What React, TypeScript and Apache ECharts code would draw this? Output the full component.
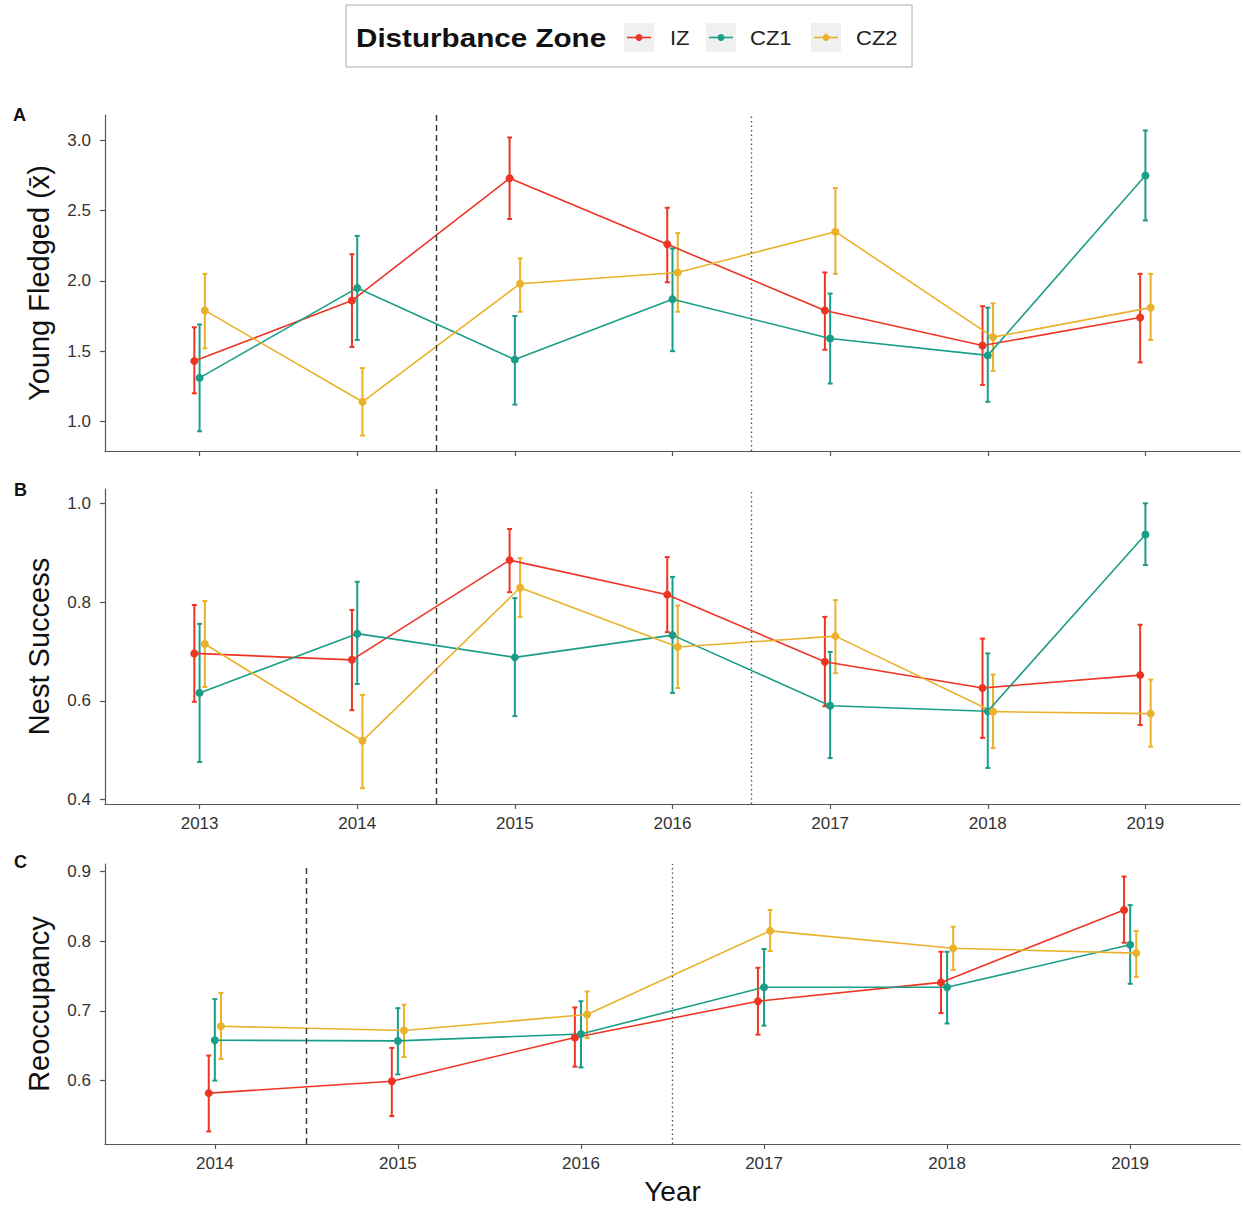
import React, { useEffect, useRef } from "react";
import * as echarts from "echarts";

const YEARS_AB = [2013, 2014, 2015, 2016, 2017, 2018, 2019];
const YEARS_C = [2014, 2015, 2016, 2017, 2018, 2019];
const ZONES = ["IZ", "CZ1", "CZ2"];
const COLORS: Record<string, string> = { IZ: "#EE3524", CZ1: "#1A9E88", CZ2: "#EAB22B" };
const DODGE: Record<string, number> = { IZ: -1 / 30, CZ1: 0, CZ2: 1 / 30 };

const A_TICKS = [1.0, 1.5, 2.0, 2.5, 3.0];
const B_TICKS = [0.4, 0.6, 0.8, 1.0];
const C_TICKS = [0.6, 0.7, 0.8, 0.9];
const DASHED_X = 2014.5;
const DOTTED_X = 2016.5;

// Panel A: Young Fledged (mean, lower, upper)
const A_IZ_MEAN = [1.43, 1.86, 2.73, 2.26, 1.79, 1.54, 1.74];
const A_IZ_LOW = [1.2, 1.53, 2.44, 1.99, 1.51, 1.26, 1.42];
const A_IZ_HIGH = [1.67, 2.19, 3.02, 2.52, 2.06, 1.82, 2.05];
const A_CZ1_MEAN = [1.31, 1.95, 1.44, 1.87, 1.59, 1.47, 2.75];
const A_CZ1_LOW = [0.93, 1.58, 1.12, 1.5, 1.27, 1.14, 2.43];
const A_CZ1_HIGH = [1.69, 2.32, 1.75, 2.23, 1.91, 1.81, 3.07];
const A_CZ2_MEAN = [1.79, 1.14, 1.98, 2.06, 2.35, 1.6, 1.81];
const A_CZ2_LOW = [1.52, 0.9, 1.78, 1.78, 2.05, 1.36, 1.58];
const A_CZ2_HIGH = [2.05, 1.38, 2.16, 2.34, 2.66, 1.84, 2.05];

// Panel B: Nest Success
const B_IZ_MEAN = [0.696, 0.683, 0.885, 0.815, 0.679, 0.626, 0.652];
const B_IZ_LOW = [0.598, 0.581, 0.82, 0.739, 0.589, 0.525, 0.551];
const B_IZ_HIGH = [0.794, 0.784, 0.948, 0.891, 0.77, 0.726, 0.754];
const B_CZ1_MEAN = [0.616, 0.736, 0.688, 0.733, 0.59, 0.579, 0.937];
const B_CZ1_LOW = [0.476, 0.634, 0.569, 0.616, 0.484, 0.464, 0.875];
const B_CZ1_HIGH = [0.756, 0.841, 0.808, 0.851, 0.699, 0.696, 1.0];
const B_CZ2_MEAN = [0.715, 0.519, 0.829, 0.709, 0.731, 0.578, 0.574];
const B_CZ2_LOW = [0.628, 0.423, 0.77, 0.626, 0.656, 0.504, 0.507];
const B_CZ2_HIGH = [0.802, 0.612, 0.889, 0.793, 0.804, 0.653, 0.643];

// Panel C: Reoccupancy
const C_IZ_MEAN = [0.582, 0.599, 0.662, 0.714, 0.741, 0.845];
const C_IZ_LOW = [0.527, 0.549, 0.62, 0.666, 0.697, 0.798];
const C_IZ_HIGH = [0.636, 0.647, 0.705, 0.762, 0.785, 0.893];
const C_CZ1_MEAN = [0.658, 0.657, 0.667, 0.734, 0.734, 0.795];
const C_CZ1_LOW = [0.6, 0.609, 0.619, 0.679, 0.682, 0.739];
const C_CZ1_HIGH = [0.717, 0.704, 0.714, 0.789, 0.785, 0.852];
const C_CZ2_MEAN = [0.678, 0.672, 0.695, 0.815, 0.79, 0.783];
const C_CZ2_LOW = [0.631, 0.634, 0.661, 0.786, 0.759, 0.749];
const C_CZ2_HIGH = [0.726, 0.709, 0.728, 0.845, 0.821, 0.815];

const FONT = "'Liberation Sans', Arial, Helvetica, sans-serif";

type Stats = { mean: number[]; low: number[]; high: number[] };

const PANELS: { years: number[]; zones: Record<string, Stats> }[] = [
  {
    years: YEARS_AB,
    zones: {
      IZ: { mean: A_IZ_MEAN, low: A_IZ_LOW, high: A_IZ_HIGH },
      CZ1: { mean: A_CZ1_MEAN, low: A_CZ1_LOW, high: A_CZ1_HIGH },
      CZ2: { mean: A_CZ2_MEAN, low: A_CZ2_LOW, high: A_CZ2_HIGH },
    },
  },
  {
    years: YEARS_AB,
    zones: {
      IZ: { mean: B_IZ_MEAN, low: B_IZ_LOW, high: B_IZ_HIGH },
      CZ1: { mean: B_CZ1_MEAN, low: B_CZ1_LOW, high: B_CZ1_HIGH },
      CZ2: { mean: B_CZ2_MEAN, low: B_CZ2_LOW, high: B_CZ2_HIGH },
    },
  },
  {
    years: YEARS_C,
    zones: {
      IZ: { mean: C_IZ_MEAN, low: C_IZ_LOW, high: C_IZ_HIGH },
      CZ1: { mean: C_CZ1_MEAN, low: C_CZ1_LOW, high: C_CZ1_HIGH },
      CZ2: { mean: C_CZ2_MEAN, low: C_CZ2_LOW, high: C_CZ2_HIGH },
    },
  },
];

function buildOption() {
  const axisColor = "#555555";
  const labelColor = "#333333";
  const grids = [
    { left: 105, top: 115, width: 1135, height: 336 },
    { left: 105, top: 489, width: 1135, height: 315 },
    { left: 105, top: 864, width: 1135, height: 280 },
  ];
  const yCfg = [
    { min: 0.79, max: 3.18, ticks: A_TICKS, name: "Young Fledged (x\u0304)" },
    { min: 0.391, max: 1.029, ticks: B_TICKS, name: "Nest Success" },
    { min: 0.509, max: 0.911, ticks: C_TICKS, name: "Reoccupancy" },
  ];
  const xAxis: any[] = PANELS.map((p, i) => ({
    type: "value",
    gridIndex: i,
    min: p.years[0] - 0.6,
    max: p.years[p.years.length - 1] + 0.6,
    axisLine: { show: true, onZero: false, lineStyle: { color: axisColor, width: 1.2 } },
    axisTick: { show: true, customValues: p.years, length: 5, lineStyle: { color: axisColor, width: 1.2 } },
    axisLabel: {
      show: i !== 0,
      customValues: p.years,
      formatter: (v: number) => String(Math.round(v)),
      color: labelColor,
      fontSize: 17,
      fontFamily: FONT,
      margin: 11,
    },
    splitLine: { show: false },
    name: i === 2 ? "Year" : "",
    nameLocation: "middle",
    nameGap: 33,
    nameTextStyle: { fontSize: 28, color: "#111", fontFamily: FONT },
  }));
  const yAxis: any[] = yCfg.map((c, i) => ({
    type: "value",
    gridIndex: i,
    min: c.min,
    max: c.max,
    axisLine: { show: true, onZero: false, lineStyle: { color: axisColor, width: 1.2 } },
    axisTick: { show: true, customValues: c.ticks, length: 5, lineStyle: { color: axisColor, width: 1.2 } },
    axisLabel: {
      customValues: c.ticks,
      formatter: (v: number) => v.toFixed(1),
      color: labelColor,
      fontSize: 17,
      fontFamily: FONT,
      margin: 14,
    },
    splitLine: { show: false },
    name: c.name,
    nameLocation: "middle",
    nameRotate: 90,
    nameGap: 52,
    nameTextStyle: { fontSize: 29, color: "#111", fontFamily: FONT },
  }));

  const series: any[] = [];
  PANELS.forEach((p, pi) => {
    ZONES.forEach((z, zi) => {
      const s = p.zones[z];
      const color = COLORS[z];
      const errData = p.years.map((y, k) => [y + DODGE[z], s.low[k], s.high[k]]);
      series.push({
        type: "custom",
        name: z,
        xAxisIndex: pi,
        yAxisIndex: pi,
        silent: true,
        z: 2,
        encode: { x: 0, y: [1, 2] },
        data: errData,
        renderItem: (params: any, api: any) => {
          const x = api.value(0);
          const pLo = api.coord([x, api.value(1)]);
          const pHi = api.coord([x, api.value(2)]);
          const cw = 2.5;
          const st = { stroke: color, lineWidth: 2 };
          return {
            type: "group",
            children: [
              { type: "line", shape: { x1: pLo[0], y1: pLo[1], x2: pHi[0], y2: pHi[1] }, style: st },
              { type: "line", shape: { x1: pLo[0] - cw, y1: pLo[1], x2: pLo[0] + cw, y2: pLo[1] }, style: st },
              { type: "line", shape: { x1: pHi[0] - cw, y1: pHi[1], x2: pHi[0] + cw, y2: pHi[1] }, style: st },
            ],
          };
        },
      });
      const lineSeries: any = {
        type: "line",
        name: z,
        xAxisIndex: pi,
        yAxisIndex: pi,
        z: 3,
        silent: true,
        symbol: "circle",
        symbolSize: 8,
        showSymbol: true,
        itemStyle: { color },
        lineStyle: { color, width: 1.6 },
        emphasis: { disabled: true },
        data: p.years.map((y, k) => [y + DODGE[z], s.mean[k]]),
      };
      if (zi === 0) {
        lineSeries.markLine = {
          silent: true,
          symbol: "none",
          label: { show: false },
          animation: false,
          data: [
            { xAxis: DASHED_X, lineStyle: { type: [6, 4], color: "#333", width: 1.4 } },
            { xAxis: DOTTED_X, lineStyle: { type: [1.5, 3], color: "#555", width: 1.4 } },
          ],
        };
      }
      series.push(lineSeries);
    });
  });

  const keyX = [624, 706, 811];
  const labelX = [670, 750, 856];
  const legendGraphics: any[] = [
    {
      type: "rect",
      shape: { x: 346, y: 5, width: 566, height: 62 },
      style: { fill: "#ffffff", stroke: "#aaaaaa", lineWidth: 1 },
      z: 10,
    },
    {
      type: "text",
      x: 356,
      y: 38,
      scaleX: 1.14,
      style: {
        text: "Disturbance Zone",
        fontSize: 26,
        fontWeight: "bold",
        fontFamily: FONT,
        fill: "#111",
        verticalAlign: "middle",
      },
      z: 11,
    },
  ];
  ZONES.forEach((z, i) => {
    legendGraphics.push(
      { type: "rect", shape: { x: keyX[i], y: 23, width: 30, height: 29 }, style: { fill: "#F0F0F0" }, z: 11 },
      {
        type: "line",
        shape: { x1: keyX[i] + 3, y1: 37.5, x2: keyX[i] + 27, y2: 37.5 },
        style: { stroke: COLORS[z], lineWidth: 1.6 },
        z: 12,
      },
      { type: "circle", shape: { cx: keyX[i] + 15, cy: 37.5, r: 3.5 }, style: { fill: COLORS[z] }, z: 12 },
      {
        type: "text",
        x: labelX[i],
        y: 38,
        scaleX: 1.1,
        style: {
          text: z,
          fontSize: 20,
          fontFamily: FONT,
          fill: "#222",
          verticalAlign: "middle",
        },
        z: 12,
      }
    );
  });
  const letters = [
    { t: "A", x: 13, y: 106 },
    { t: "B", x: 14, y: 481 },
    { t: "C", x: 14, y: 853 },
  ];
  letters.forEach((l) =>
    legendGraphics.push({
      type: "text",
      x: l.x,
      y: l.y,
      style: { text: l.t, fontSize: 18, fontWeight: "bold", fontFamily: FONT, fill: "#111", verticalAlign: "top" },
    })
  );

  return {
    animation: false,
    backgroundColor: "#ffffff",
    textStyle: { fontFamily: FONT },
    grid: grids,
    xAxis,
    yAxis,
    legend: { show: false },
    tooltip: { show: false },
    series,
    graphic: legendGraphics,
  };
}

export default function App() {
  const ref = useRef<HTMLDivElement>(null);
  useEffect(() => {
    if (!ref.current) return;
    const chart = echarts.init(ref.current, undefined, { renderer: "svg" });
    chart.setOption(buildOption() as any);
    return () => chart.dispose();
  }, []);
  return (
    <div
      ref={ref}
      style={{ position: "absolute", left: 0, top: 0, width: 1243, height: 1209, background: "#fff" }}
    />
  );
}
